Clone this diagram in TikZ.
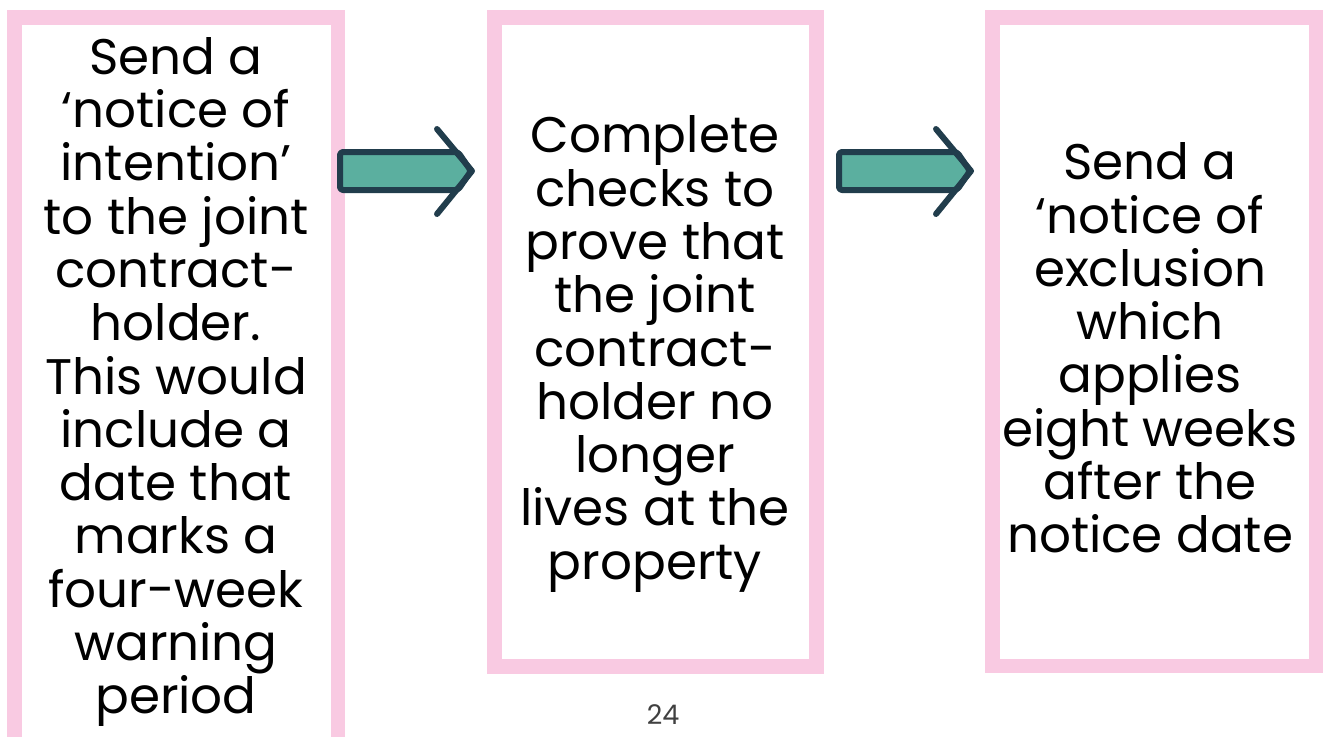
\documentclass[tikz,border=0pt]{standalone}
\usepackage{fontspec}
\setmainfont{Poppins}
\definecolor{boxpink}{HTML}{F9CAE2}
\definecolor{arrowteal}{HTML}{5BAF9F}
\definecolor{arrownavy}{HTML}{213D4C}
\tikzset{
  stepbox/.style={draw=boxpink, line width=14.5pt, fill=white, inner sep=0pt, outer sep=0pt},
  steptext/.style={align=center, inner sep=0pt, font=\fontsize{50}{53.3}\selectfont, text=black},
  arrowbody/.style={draw=arrownavy, fill=arrowteal, line width=6pt, rounded corners=3pt, line join=round},
  arrowhead/.style={draw=arrownavy, line width=6pt, line cap=round, line join=round},
  pagenum/.style={font=\fontsize{27}{30}\selectfont, text=black!75, inner sep=0pt, anchor=base}
}
\newcommand{\blockarrow}[1]{%
  \begin{scope}[shift={(#1)}]
    \draw[arrowbody] (0,0) -- (118,0) -- (131,19) -- (118,38) -- (0,38) -- cycle;
    \draw[arrowhead] (97,-23) -- (132,19) -- (97,62);
  \end{scope}}
\begin{document}
\begin{tikzpicture}[x=1pt,y=-1pt]
\useasboundingbox (0,0) rectangle (1324,736);
\clip (0,0) rectangle (1324,736);
\node[stepbox, minimum width=323.5pt, minimum height=742.5pt] (b1) at (176.25,388.75) {};
\node[stepbox, minimum width=322pt, minimum height=649pt] (b2) at (655.5,342) {};
\node[stepbox, minimum width=323.5pt, minimum height=648.5pt] (b3) at (1154.25,341.75) {};
\node[steptext] (t1) at (176,382) {Send a\\‘notice of\\intention’\\to the joint\\contract-\\holder.\\This would\\include a\\date that\\marks a\\four-week\\warning\\period};
\node[steptext] (t2) at (655,354) {Complete\\checks to\\prove that\\the joint\\contract-\\holder no\\longer\\lives at the\\property};
\node[steptext] (t3) at (1150,348) {Send a\\‘notice of\\exclusion\\which\\applies\\eight weeks\\after the\\notice date};
\coordinate (a1) at (340,152);
\coordinate (a2) at (839,152);
\blockarrow{a1}
\blockarrow{a2}
\node[pagenum] (pg) at (663,724) {24};
\end{tikzpicture}
\end{document}
